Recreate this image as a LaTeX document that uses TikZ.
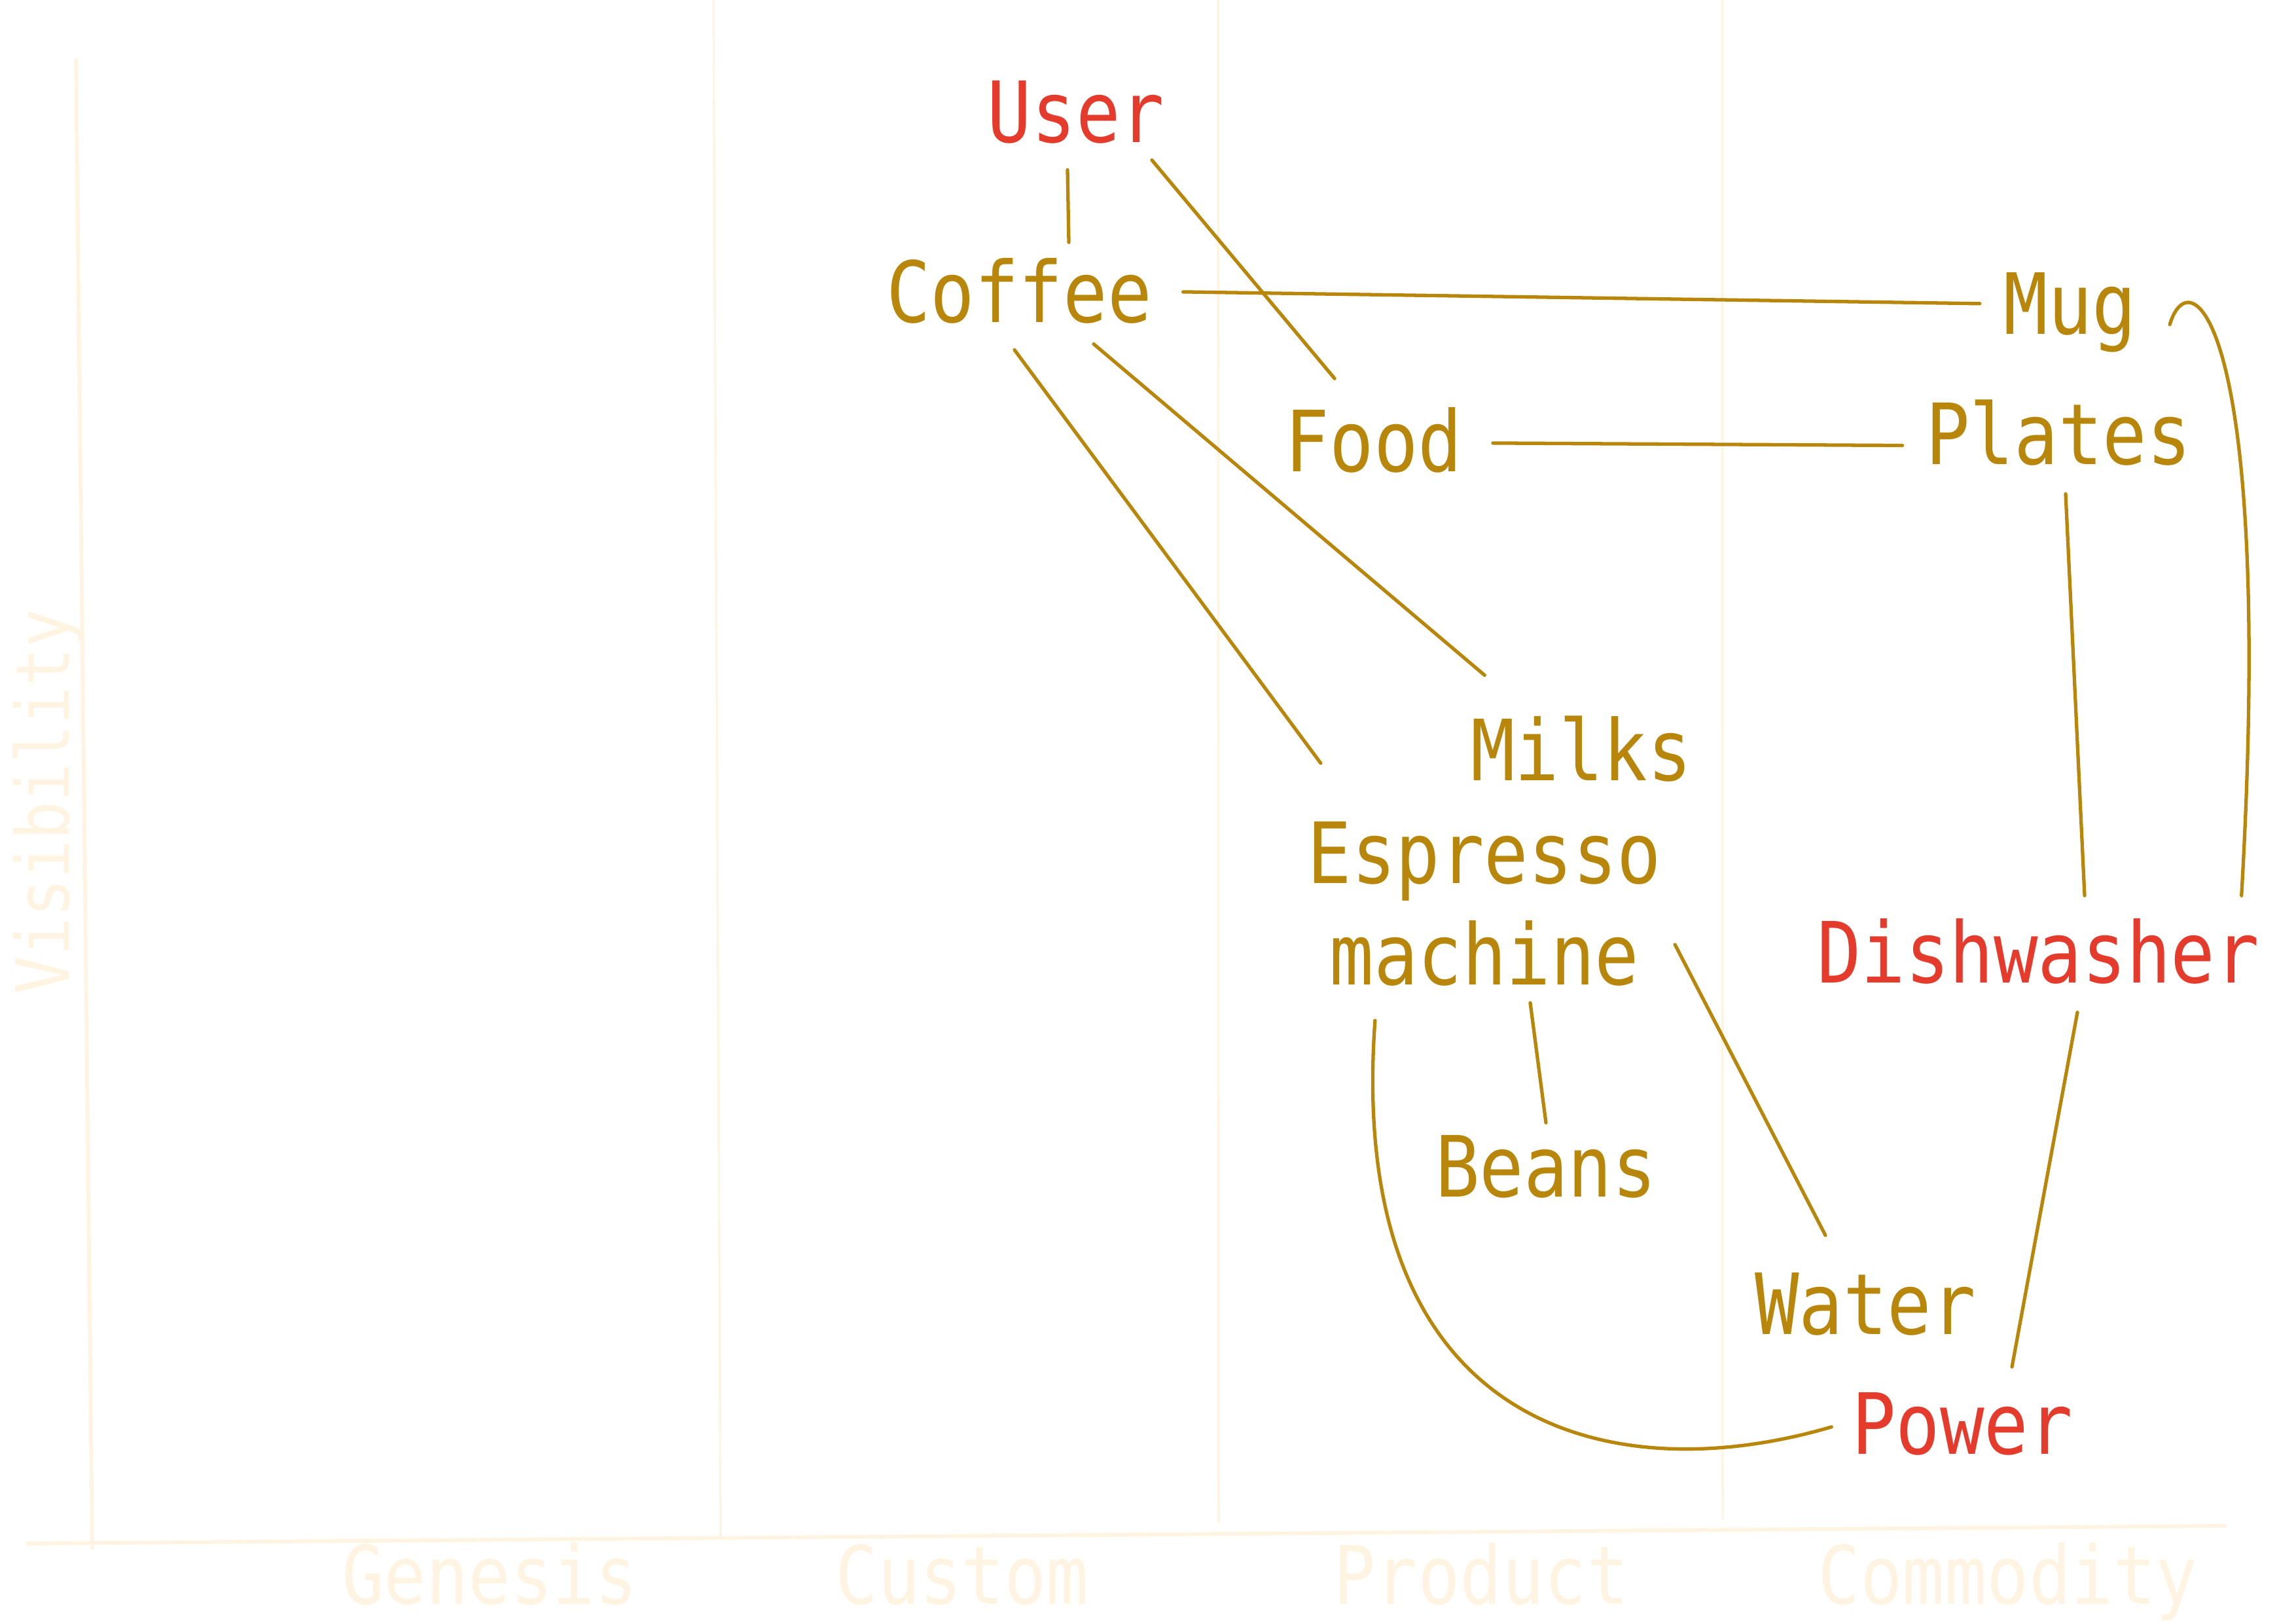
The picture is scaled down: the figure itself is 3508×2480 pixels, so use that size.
\documentclass[tikz,border=0pt]{standalone}
\usepackage{fontspec}
\usepackage{xcolor}
\usepackage{tikz}
\usetikzlibrary{positioning}
\newfontfamily\mapfont[FakeStretch=0.87]{DejaVu Sans Mono}
\definecolor{needred}{HTML}{E53B2C}
\definecolor{compgold}{HTML}{B8860B}
\definecolor{axiscream}{HTML}{FFF4E2}

\begin{document}
\begin{tikzpicture}[x=0.01cm,y=-0.01cm,
    every node/.style={font=\mapfont\fontsize{36.7}{44}\selectfont,inner sep=0.3cm},
    comp/.style={text=compgold,anchor=base},
    need/.style={text=needred,anchor=base},
    link/.style={draw=compgold,line width=1.5pt,line cap=round},
    axisline/.style={draw=axiscream,line width=1.7pt},
    gridline/.style={draw=axiscream,line width=1pt},
    axislabel/.style={text=axiscream,font=\mapfont\fontsize{35}{40}\selectfont,anchor=base,inner sep=0pt}]
        \useasboundingbox (0,0) rectangle (3508,2480);
        \draw[gridline] (1090,0) -- (1101,2349);
        \draw[gridline] (1861,0) -- (1862,2326);
        \draw[gridline] (2631,0) -- (2632,2322);
        \draw[axisline] (116,90) -- (141,2367);
        \draw[axisline] (40,2358) -- (3402,2331);
        \node[axislabel,rotate=90,font=\mapfont\fontsize{32}{40}\selectfont] (vis) at (105,1225) {Visibility};
        \node[axislabel] (genesis) at (748,2450) {Genesis};
        \node[axislabel] (custom) at (1470,2450) {Custom};
        \node[axislabel] (product) at (2263,2450) {Product};
        \node[axislabel] (commodity) at (3068,2450) {Commodity};
        \node[need] (user) at (1644,217) {User};
        \node[comp] (coffee) at (1557,492) {Coffee};
        \node[comp] (mug) at (3163,510) {Mug};
        \node[comp] (food) at (2099,720) {Food};
        \node[comp] (plates) at (3145,709) {Plates};
        \node[comp] (milks) at (2416,1192) {Milks};
        \node[comp,anchor=center,align=center] (esp) at (2268,1381) {Espresso\\machine};
        \node[need] (dish) at (3114,1501) {Dishwasher};
        \node[comp] (beans) at (2362,1828) {Beans};
        \node[comp] (water) at (2850,2038) {Water};
        \node[need] (power) at (2998,2221) {Power};
        \draw[link] ([shift={(-13,10)}]user.south) -- ([shift={(76,7)}]coffee.north);
        \draw[link] ([shift={(-50,-5)}]user.south east) -- ([shift={(106,-13)}]food.north west);
        \draw[link] ([shift={(17,2)}]coffee.east) -- ([shift={(-6,-13)}]mug.west);
        \draw[link] ([shift={(-7,10)}]coffee.south) -- ([shift={(51,-59)}]esp.north west);
        \draw[link] ([shift={(114,1)}]coffee.south) -- ([shift={(52,-31)}]milks.north west);
        \draw[link] ([shift={(16,5)}]food.east) -- ([shift={(-5,20)}]plates.west);
        \draw[link] ([shift={(11,13)}]plates.south) -- ([shift={(71,-4)}]dish.north);
        \draw[link] ([shift={(20,19)}]mug.east) .. controls +(32,-107) and +(50,-869) .. ([shift={(-58,-4)}]dish.north east);
        \draw[link] ([shift={(70,-5)}]esp.south) -- ([shift={(0,12)}]beans.north);
        \draw[link] ([shift={(-10,62)}]esp.east) -- ([shift={(-61,-26)}]water.north);
        \draw[link] ([shift={(60,13)}]dish.south) -- ([shift={(76,-8)}]power.north);
        \draw[link] ([shift={(134,22)}]esp.south west) .. controls +(-45,623) and +(-340,100) .. ([shift={(0,5)}]power.west);
      \end{tikzpicture}
\end{document}
